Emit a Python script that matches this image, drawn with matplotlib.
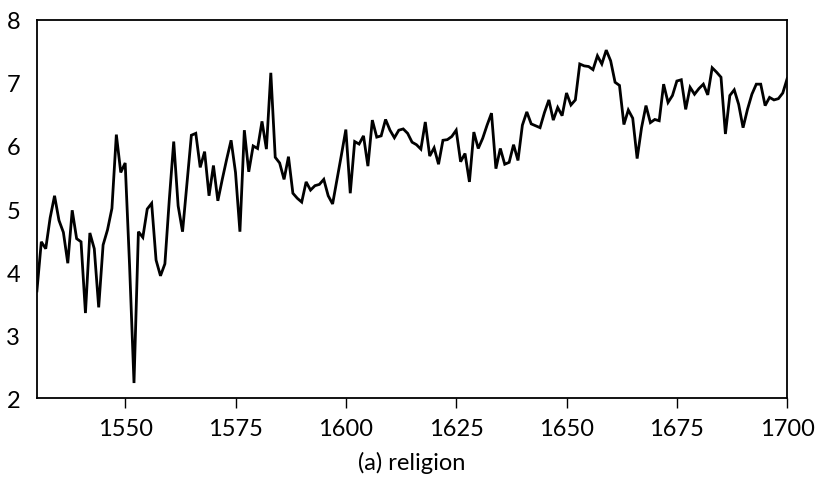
import matplotlib
matplotlib.use("Agg")
import matplotlib.pyplot as plt

plt.rcParams['font.family'] = ['Lato', 'DejaVu Sans']

# yearly values, 1530-1700
years = list(range(1530, 1701))
values = [
    3.70, 4.48, 4.37, 4.86, 5.21, 4.82, 4.63, 4.14, 4.98, 4.53,  # 1530s
    4.48, 3.35, 4.62, 4.37, 3.44, 4.43, 4.67, 5.01, 6.18, 5.58,  # 1540s
    5.73, 4.10, 2.24, 4.64, 4.55, 5.00, 5.09, 4.19, 3.94, 4.13,  # 1550s
    5.15, 6.07, 5.05, 4.64, 5.40, 6.17, 6.20, 5.66, 5.91, 5.21,  # 1560s
    5.69, 5.13, 5.47, 5.79, 6.09, 5.58, 4.64, 6.25, 5.59, 6.00,  # 1570s
    5.96, 6.39, 5.95, 7.16, 5.82, 5.73, 5.47, 5.83, 5.25, 5.17,  # 1580s
    5.11, 5.43, 5.30, 5.37, 5.39, 5.47, 5.21, 5.08, 5.47, 5.86,  # 1590s
    6.26, 5.25, 6.07, 6.03, 6.16, 5.68, 6.41, 6.14, 6.16, 6.42,  # 1600s
    6.25, 6.13, 6.25, 6.27, 6.20, 6.06, 6.02, 5.95, 6.38, 5.84,  # 1610s
    5.97, 5.71, 6.09, 6.10, 6.15, 6.25, 5.75, 5.88, 5.43, 6.22,  # 1620s
    5.96, 6.12, 6.33, 6.52, 5.64, 5.96, 5.71, 5.74, 6.02, 5.77,  # 1630s
    6.33, 6.54, 6.35, 6.32, 6.29, 6.53, 6.73, 6.41, 6.61, 6.48,  # 1640s
    6.84, 6.65, 6.73, 7.30, 7.27, 7.26, 7.21, 7.43, 7.30, 7.52,  # 1650s
    7.35, 7.01, 6.96, 6.34, 6.57, 6.44, 5.80, 6.29, 6.64, 6.37,  # 1660s
    6.42, 6.40, 6.98, 6.69, 6.80, 7.03, 7.05, 6.58, 6.93, 6.82,  # 1670s
    6.91, 6.98, 6.81, 7.24, 7.17, 7.09, 6.19, 6.80, 6.89, 6.66,  # 1680s
    6.29, 6.58, 6.82, 6.98, 6.98, 6.64, 6.77, 6.73, 6.75, 6.84,  # 1690s
    7.07,
]

x_ticks = [1550, 1575, 1600, 1625, 1650, 1675, 1700]
y_ticks = [2, 3, 4, 5, 6, 7, 8]

fig = plt.figure(figsize=(8.2, 4.85), dpi=100)
ax = fig.add_axes([0.045, 0.177, 0.915, 0.780])

ax.plot(years, values, color='black', linewidth=2.0, solid_joinstyle='miter')

ax.set_xlim(1530, 1700)
ax.set_ylim(2, 8)
ax.set_xticks(x_ticks)
ax.set_yticks(y_ticks)
ax.tick_params(axis='x', direction='out', length=7, width=1, labelsize=17, pad=7)
ax.tick_params(axis='y', length=0, labelsize=17, pad=12)
for s in ax.spines.values():
    s.set_linewidth(1.3)

ax.set_xlabel('(a) religion', fontsize=17, labelpad=9)

fig.savefig('out.png', dpi=100)
